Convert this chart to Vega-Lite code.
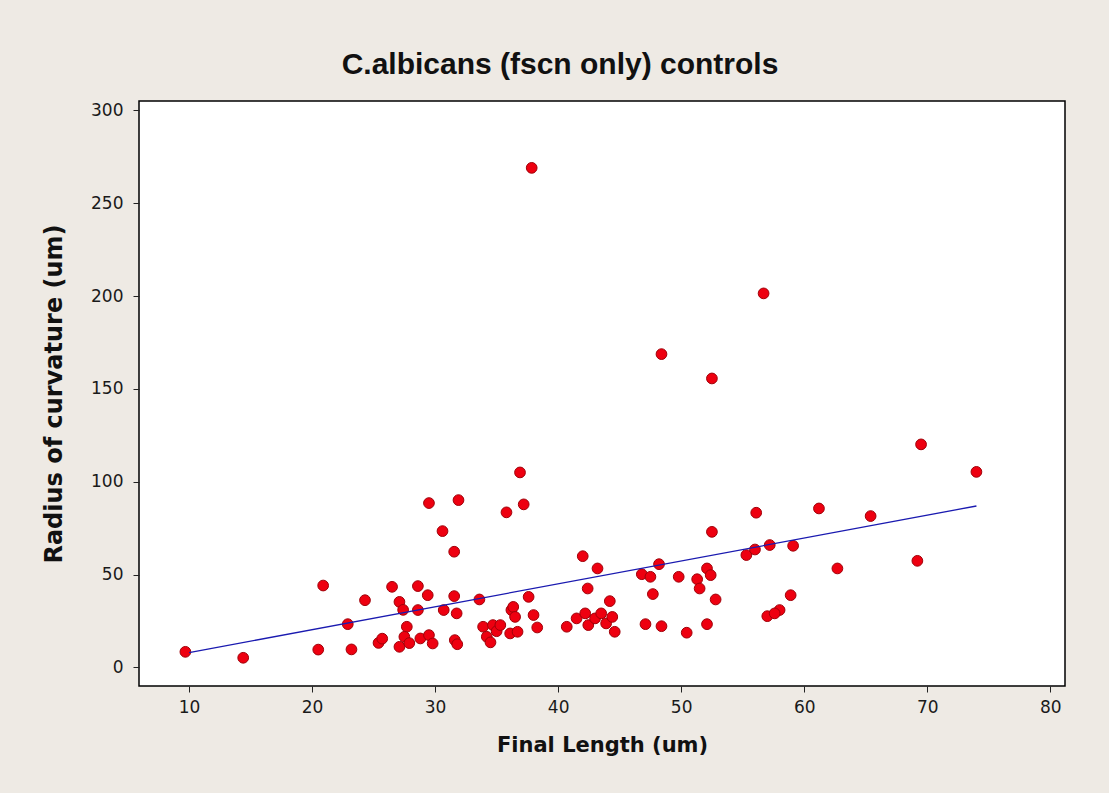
{
  "$schema": "https://vega.github.io/schema/vega-lite/v6.json",
  "autosize": {"type": "none"},
  "width": 926,
  "height": 585,
  "padding": {"left": 139, "top": 101, "right": 44, "bottom": 107},
  "background": "#EEEAE4",
  "title": {
    "text": "C.albicans (fscn only) controls",
    "font": "Liberation Sans",
    "fontSize": 30,
    "fontWeight": "bold",
    "color": "#111111",
    "offset": 21,
    "dx": -42
  },
  "config": {
    "view": {"fill": "white", "stroke": "black", "strokeWidth": 1.5},
    "axis": {
      "grid": false,
      "domain": false,
      "tickColor": "#222222",
      "tickSize": 6,
      "labelFont": "DejaVu Sans",
      "labelFontSize": 17,
      "labelColor": "#1A1A1A",
      "titleFont": "DejaVu Sans",
      "titleFontWeight": "bold",
      "titleColor": "#111111"
    }
  },
  "data": {
    "values": [
      {"len": 9.7, "rad": 8.4}, {"len": 14.4, "rad": 5.2}, {"len": 20.5, "rad": 9.6}, {"len": 20.9, "rad": 44.1},
      {"len": 22.9, "rad": 23.3}, {"len": 23.2, "rad": 9.7}, {"len": 24.3, "rad": 36.2}, {"len": 25.4, "rad": 13.2},
      {"len": 25.7, "rad": 15.5}, {"len": 26.5, "rad": 43.4}, {"len": 27.1, "rad": 35.3}, {"len": 27.4, "rad": 31.0},
      {"len": 27.7, "rad": 21.9}, {"len": 27.5, "rad": 16.5}, {"len": 27.1, "rad": 11.1}, {"len": 27.9, "rad": 13.1},
      {"len": 28.6, "rad": 43.8}, {"len": 29.4, "rad": 38.9}, {"len": 28.6, "rad": 30.9}, {"len": 28.8, "rad": 15.6},
      {"len": 29.5, "rad": 17.4}, {"len": 29.8, "rad": 12.9}, {"len": 29.5, "rad": 88.5}, {"len": 31.9, "rad": 90.1},
      {"len": 30.6, "rad": 73.4}, {"len": 31.55, "rad": 62.3}, {"len": 30.7, "rad": 30.9}, {"len": 31.55, "rad": 38.4},
      {"len": 31.75, "rad": 29.1}, {"len": 31.6, "rad": 14.7}, {"len": 31.8, "rad": 12.5}, {"len": 33.6, "rad": 36.6},
      {"len": 33.9, "rad": 21.9}, {"len": 34.2, "rad": 16.5}, {"len": 34.7, "rad": 22.8}, {"len": 34.5, "rad": 13.5},
      {"len": 35.0, "rad": 19.5}, {"len": 35.3, "rad": 22.8}, {"len": 36.2, "rad": 30.9}, {"len": 35.8, "rad": 83.5},
      {"len": 36.9, "rad": 105.0}, {"len": 37.2, "rad": 87.8}, {"len": 37.6, "rad": 38.0}, {"len": 36.35, "rad": 32.6},
      {"len": 36.5, "rad": 27.2}, {"len": 38.0, "rad": 28.2}, {"len": 38.3, "rad": 21.5}, {"len": 36.1, "rad": 18.3},
      {"len": 36.7, "rad": 19.2}, {"len": 37.85, "rad": 269.0}, {"len": 40.7, "rad": 21.9}, {"len": 41.5, "rad": 26.4},
      {"len": 42.2, "rad": 29.1}, {"len": 42.45, "rad": 22.8}, {"len": 43.0, "rad": 26.4}, {"len": 43.5, "rad": 29.1},
      {"len": 43.9, "rad": 23.7}, {"len": 44.2, "rad": 35.7}, {"len": 44.4, "rad": 27.2}, {"len": 44.6, "rad": 19.2},
      {"len": 42.0, "rad": 59.9}, {"len": 43.2, "rad": 53.3}, {"len": 42.4, "rad": 42.5}, {"len": 47.1, "rad": 23.3},
      {"len": 48.4, "rad": 22.2}, {"len": 50.45, "rad": 18.7}, {"len": 46.8, "rad": 50.2}, {"len": 47.5, "rad": 48.8},
      {"len": 48.2, "rad": 55.6}, {"len": 47.7, "rad": 39.5}, {"len": 49.8, "rad": 48.8}, {"len": 51.3, "rad": 47.5},
      {"len": 48.4, "rad": 168.7}, {"len": 52.5, "rad": 155.6}, {"len": 56.7, "rad": 201.4}, {"len": 69.5, "rad": 120.1},
      {"len": 74.0, "rad": 105.3}, {"len": 56.1, "rad": 83.3}, {"len": 61.2, "rad": 85.6}, {"len": 65.4, "rad": 81.5},
      {"len": 52.5, "rad": 73.0}, {"len": 55.3, "rad": 60.5}, {"len": 56.0, "rad": 63.5}, {"len": 57.2, "rad": 65.9},
      {"len": 59.1, "rad": 65.5}, {"len": 62.7, "rad": 53.3}, {"len": 69.2, "rad": 57.4}, {"len": 52.1, "rad": 53.3},
      {"len": 52.4, "rad": 49.7}, {"len": 51.5, "rad": 42.5}, {"len": 52.8, "rad": 36.6}, {"len": 58.9, "rad": 38.9},
      {"len": 58.0, "rad": 30.9}, {"len": 57.0, "rad": 27.6}, {"len": 57.6, "rad": 29.1}, {"len": 52.1, "rad": 23.3}
    ]
  },
  "encoding": {
    "x": {
      "field": "len", "type": "quantitative", "title": "Final Length (um)",
      "scale": {"domain": [5.93, 81.2], "nice": false, "zero": false},
      "axis": {"values": [10, 20, 30, 40, 50, 60, 70, 80], "labelPadding": 7, "titlePadding": 19, "titleFontSize": 21}
    },
    "y": {
      "field": "rad", "type": "quantitative", "title": "Radius of curvature (um)",
      "scale": {"domain": [-10, 305], "nice": false, "zero": false},
      "axis": {"values": [0, 50, 100, 150, 200, 250, 300], "labelPadding": 10, "titlePadding": 24, "titleFontSize": 24}
    }
  },
  "layer": [
    {
      "mark": {"type": "point", "filled": true, "shape": "circle", "size": 115, "color": "#EE0010", "stroke": "#A00008", "strokeWidth": 1, "opacity": 1}
    },
    {
      "transform": [{"regression": "rad", "on": "len", "extent": [10, 74]}],
      "mark": {"type": "line", "color": "#1A1AB0", "strokeWidth": 1.3}
    }
  ]
}
